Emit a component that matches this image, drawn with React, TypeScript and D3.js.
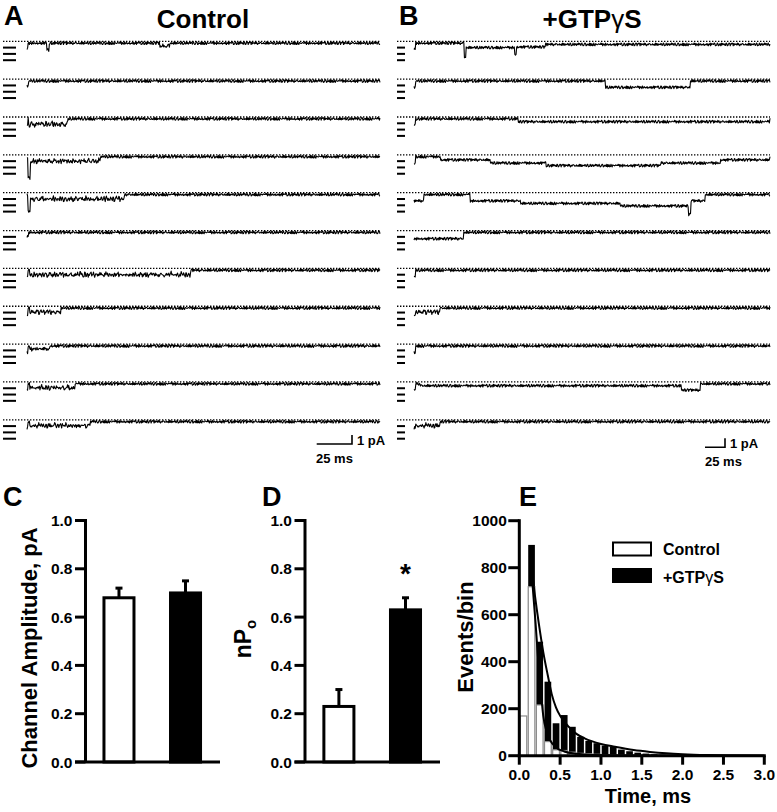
import React from 'react';
import * as d3 from 'd3';

const FONT = '"Liberation Sans", Arial, Helvetica, sans-serif';

// ---------- Panels A/B: single-channel traces ----------
const A_DURATION_MS = 250;
const B_DURATION_MS = 445;
const UNITARY_PA = 0.7;
const OPEN_LEVELS = [1, 2, 3];
const SCALE_MS = 25;
const SCALE_PA = 1;

// events per sweep: [startMs, endMs, level (in unitary openings), flicker 0/1]
const controlEvents: number[][][] = [
  [[0, 0.6, 1, 0], [14, 15.6, 1.1, 0], [94, 101, 0.6, 1]],
  [[0, 1.2, 0.8, 0]],
  [[0, 0.6, 1, 0], [1.2, 29, 1.1, 1]],
  [[0.6, 2.5, 3.4, 0], [2.5, 52, 0.9, 1]],
  [[0.6, 2.5, 2.7, 0], [2.5, 69, 0.9, 1]],
  [[0, 1.2, 0.6, 0]],
  [[0, 0.6, 1, 0], [1.9, 116, 0.9, 1]],
  [[0, 0.6, 1, 0], [1.9, 24, 0.8, 1]],
  [[0, 0.6, 1, 0], [1.9, 16, 0.6, 1]],
  [[0, 0.6, 1, 0], [1.9, 34, 0.8, 1]],
  [[0, 0.6, 1, 0], [1.9, 45, 0.8, 1]],
];

const gtpEvents: number[][][] = [
  [[0, 2, 1, 0], [63, 65, 2.2, 0], [65, 126, 0.7, 0], [126, 128, 1.8, 0], [128, 164, 0.6, 0], [164, 445, 0.2, 0]],
  [[0, 2, 1, 0], [239, 345, 1, 0]],
  [[0, 2, 1, 0], [130, 445, 0.45, 0]],
  [[0, 2, 1, 0], [33, 95, 0.5, 0], [95, 165, 1, 0], [165, 308, 1.4, 0], [308, 383, 1, 0], [383, 445, 0.5, 0]],
  [[0, 12, 1, 0], [70, 133, 1, 0], [133, 258, 1.4, 0], [258, 343, 1.8, 0], [343, 346, 3.2, 0], [346, 364, 1, 0]],
  [[0, 62, 1, 0]],
  [[0, 2, 1, 0]],
  [[0, 2, 1, 0], [2, 32, 0.8, 1]],
  [[0, 2, 1, 0]],
  [[0, 2, 1, 0], [8, 334, 0.3, 0], [334, 358, 1, 0]],
  [[0, 2, 1, 0], [2, 32, 0.8, 1]],
];

// fixed background-noise and flicker tables (digits 0-9)
const NOISE = '5364728194637251849362718453927164835291746382915473826194735261849372615849372615483927164583926174839265174839621574839261748395261748396251748396215478396';
const FLICK = '79685798469758697485967896579867593789586974859687956897459786958749687958697';

// ---------- Panels C/D ----------
const groups = ['Control', '+GTPγS'];
const ampMean = [0.68, 0.70];
const ampSem = [0.04, 0.05];
const npoMean = [0.23, 0.63];
const npoSem = [0.07, 0.05];
const barTicks = [0, 0.2, 0.4, 0.6, 0.8, 1.0];

// ---------- Panel E ----------
const binCenters = [0.05, 0.15, 0.25, 0.35, 0.45, 0.55, 0.65, 0.75, 0.85, 0.95, 1.05, 1.15, 1.25, 1.35, 1.45, 1.55, 1.65, 1.75, 1.85, 1.95, 2.05, 2.15];
const controlCounts = [169, 719, 216, 60, 25, 22, 15, 10, 8, 6, 4, 3, 2, 2, 1, 1, 0, 0, 0, 0, 0, 0];
const gtpCounts = [0, 897, 485, 315, 138, 173, 123, 80, 63, 53, 43, 39, 26, 19, 13, 9, 6, 4, 3, 2, 1, 1];
const controlFit = [[0.13, 850], [0.164, 719], [0.2, 560], [0.233, 400], [0.265, 270], [0.294, 168], [0.33, 108], [0.376, 67], [0.45, 35], [0.55, 18], [0.7, 8], [0.9, 3], [1.2, 1], [3.0, 0]];
const gtpFit = [[0.13, 850], [0.16, 770], [0.192, 680], [0.24, 560], [0.294, 440], [0.35, 340], [0.397, 262], [0.45, 205], [0.5, 170], [0.6, 125], [0.7, 93], [0.8, 74], [1.0, 50], [1.17, 38], [1.4, 24], [1.6, 16], [1.8, 10], [2.0, 6], [2.3, 2.5], [2.6, 1], [3.0, 0]];
const timeTicks = [0, 0.5, 1.0, 1.5, 2.0, 2.5, 3.0];
const countTicks = [0, 200, 400, 600, 800, 1000];

const noiseVals = NOISE.split('').map((c) => (+c - 4.5) / 4.5);
const flickVals = FLICK.split('').map((c) => +c / 9);

function tracePath(events: number[][], duration: number, x: d3.ScaleLinear<number, number>, y0: number, depth: d3.ScaleLinear<number, number>, row: number) {
  const n = 600;
  const pts: [number, number][] = [];
  for (let i = 0; i <= n; i++) {
    const t = (i / n) * duration;
    let lvl = 0;
    for (const [s, e, l, f] of events) {
      if (t >= s && t < e) lvl = f ? l * flickVals[(Math.floor(i / 2) + row * 11) % flickVals.length] : l;
    }
    const nz = noiseVals[(i * 7 + row * 37) % noiseVals.length];
    pts.push([x(t), y0 + 1.7 + nz * 1.5 + depth(lvl * UNITARY_PA)]);
  }
  return d3.line()(pts) || '';
}

function TracePanel(props: { events: number[][][]; duration: number; x0: number; x1: number; dotX0: number; markX0: number; markX1: number; scaleEndX: number; scaleY: number; title: string; titleX: number; letter: string; letterX: number; msLabelX: number; }) {
  const { events, duration, x0, x1, dotX0, markX0, markX1, scaleEndX, scaleY, title, titleX, letter, letterX, msLabelX } = props;
  const x = d3.scaleLinear().domain([0, duration]).range([x0, x1]);
  const rowY = d3.scaleLinear().domain([0, events.length - 1]).range([41.3, 419.8]);
  const depth = d3.scaleLinear().domain([0, 1]).range([0, 9]); // pA -> px
  const barLen = x(SCALE_MS) - x(0);
  return (
    <g>
      <text x={letterX} y={25} fontSize={27} fontWeight="bold" fontFamily={FONT}>{letter}</text>
      <text x={titleX} y={28} fontSize={26} fontWeight="bold" fontFamily={FONT} textAnchor="middle">
        {title.includes('γ') ? (<>+GTP<tspan fontWeight="normal">γ</tspan>S</>) : title}
      </text>
      {events.map((ev, r) => {
        const y0 = rowY(r);
        return (
          <g key={r}>
            <line x1={dotX0} x2={x1} y1={y0} y2={y0} stroke="#000" strokeWidth={1.3} strokeDasharray="1.4 1.6" />
            {OPEN_LEVELS.map((l) => (
              <line key={l} x1={markX0} x2={markX1} y1={y0 + depth(l * UNITARY_PA)} y2={y0 + depth(l * UNITARY_PA)} stroke="#000" strokeWidth={2} />
            ))}
            <path d={tracePath(ev, duration, x, y0, depth, r)} fill="none" stroke="#000" strokeWidth={1.1} strokeLinejoin="round" />
          </g>
        );
      })}
      <path d={`M${scaleEndX - barLen},${scaleY}H${scaleEndX}V${scaleY - depth(SCALE_PA)}`} fill="none" stroke="#000" strokeWidth={1.6} />
      <text x={scaleEndX + 5} y={scaleY + 1} fontSize={13} fontWeight="bold" fontFamily={FONT}>{`${SCALE_PA} pA`}</text>
      <text x={msLabelX} y={scaleY + 19} fontSize={13} fontWeight="bold" fontFamily={FONT}>{`${SCALE_MS} ms`}</text>
    </g>
  );
}

function BarPanel(props: { means: number[]; sems: number[]; axisX: number; bandRange: [number, number]; letter: string; letterX: number; star?: boolean; label: React.ReactNode; }) {
  const { means, sems, axisX, bandRange, letter, letterX, star, label } = props;
  const y = d3.scaleLinear().domain([0, 1]).range([762, 520.5]);
  const xb = d3.scaleBand<string>().domain(groups).range(bandRange).paddingInner(0.549).paddingOuter(0.27);
  const bw = xb.bandwidth();
  return (
    <g fontFamily={FONT} fontWeight="bold">
      <text x={letterX} y={506} fontSize={27}>{letter}</text>
      {label}
      {groups.map((g, i) => {
        const bx = xb(g)!;
        const cx = bx + bw / 2;
        return (
          <g key={g}>
            <line x1={cx} x2={cx} y1={y(means[i])} y2={y(means[i] + sems[i])} stroke="#000" strokeWidth={3} />
            <line x1={cx - 3.5} x2={cx + 3.5} y1={y(means[i] + sems[i])} y2={y(means[i] + sems[i])} stroke="#000" strokeWidth={3} />
            <rect x={bx} y={y(means[i])} width={bw} height={y(0) - y(means[i])} fill={i === 0 ? '#fff' : '#000'} stroke="#000" strokeWidth={3} />
          </g>
        );
      })}
      {star && (
        <text x={xb(groups[1])! + bw / 2} y={583} fontSize={28} textAnchor="middle">*</text>
      )}
      <line x1={axisX} x2={axisX} y1={y(1) - 1.5} y2={y(0)} stroke="#000" strokeWidth={3} />
      <line x1={axisX - 10.5} x2={bandRange[1] + 1.5} y1={y(0)} y2={y(0)} stroke="#000" strokeWidth={3} />
      {barTicks.map((t) => (
        <g key={t}>
          <line x1={axisX - 10.5} x2={axisX} y1={y(t)} y2={y(t)} stroke="#000" strokeWidth={3} />
          <text x={axisX - 13} y={y(t)} dy="0.36em" fontSize={15.5} textAnchor="end">{d3.format('.1f')(t)}</text>
        </g>
      ))}
    </g>
  );
}

function HistPanel() {
  const x = d3.scaleLinear().domain([0, 3]).range([519.3, 764.3]);
  const y = d3.scaleLinear().domain([0, 1000]).range([755.7, 520.7]);
  const half = 0.041;
  const line = d3.line<number[]>().x((d) => x(d[0])).y((d) => y(d[1])).curve(d3.curveMonotoneX);
  return (
    <g fontFamily={FONT} fontWeight="bold">
      <text x={519} y={506} fontSize={27}>E</text>
      <text transform={`translate(473,637) rotate(-90)`} fontSize={22} textAnchor="middle">Events/bin</text>
      <text x={648} y={802.7} fontSize={20} textAnchor="middle">Time, ms</text>
      {binCenters.map((c, i) => gtpCounts[i] > 0 && (
        <rect key={'g' + i} x={x(c - half)} y={y(gtpCounts[i])} width={x(c + half) - x(c - half)} height={y(0) - y(gtpCounts[i])} fill="#000" />
      ))}
      {binCenters.map((c, i) => controlCounts[i] > 0 && (
        <rect key={'c' + i} x={x(c - half)} y={y(controlCounts[i])} width={x(c + half) - x(c - half)} height={y(0) - y(controlCounts[i])} fill="#fff" stroke="#8c8c8c" strokeWidth={1.2} />
      ))}
      <path d={line(controlFit) || ''} fill="none" stroke="#000" strokeWidth={2} />
      <path d={line(gtpFit) || ''} fill="none" stroke="#000" strokeWidth={2} />
      <line x1={x(0)} x2={x(0)} y1={y(1000) - 1.5} y2={y(0)} stroke="#000" strokeWidth={3} />
      <line x1={x(0) - 1.5} x2={x(3) + 1.5} y1={y(0)} y2={y(0)} stroke="#000" strokeWidth={3} />
      {countTicks.map((t) => (
        <g key={t}>
          <line x1={x(0) - 11} x2={x(0)} y1={y(t)} y2={y(t)} stroke="#000" strokeWidth={3} />
          <text x={x(0) - 12.5} y={y(t)} dy="0.36em" fontSize={15.5} textAnchor="end">{t}</text>
        </g>
      ))}
      {timeTicks.map((t) => (
        <g key={t}>
          <line x1={x(t)} x2={x(t)} y1={y(0)} y2={y(0) + 9} stroke="#000" strokeWidth={3} />
          <text x={x(t)} y={779.5} fontSize={15.5} textAnchor="middle">{d3.format('.1f')(t)}</text>
        </g>
      ))}
      <rect x={613} y={542.5} width={38} height={13} fill="#fff" stroke="#000" strokeWidth={2} />
      <rect x={612} y={568} width={40} height={15} fill="#000" />
      <text x={663} y={555} fontSize={16}>{groups[0]}</text>
      <text x={663} y={582.5} fontSize={16}>+GTP<tspan fontWeight="normal">γ</tspan>S</text>
    </g>
  );
}

export default function App() {
  return (
    <svg width={777} height={812} viewBox="0 0 777 812" style={{ position: 'absolute', left: 0, top: 0, background: '#fff' }}>
      <rect width={777} height={812} fill="#fff" />
      <TracePanel events={controlEvents} duration={A_DURATION_MS} x0={27} x1={380} dotX0={3} markX0={3} markX1={16}
        scaleEndX={352} scaleY={444} title="Control" titleX={203} letter="A" letterX={4} msLabelX={316} />
      <TracePanel events={gtpEvents} duration={B_DURATION_MS} x0={414} x1={770} dotX0={397} markX0={397} markX1={405}
        scaleEndX={725} scaleY={447.3} title="+GTPγS" titleX={592} letter="B" letterX={399} msLabelX={705} />
      <BarPanel means={ampMean} sems={ampSem} axisX={85.5} bandRange={[86, 218.5]} letter="C" letterX={3}
        label={<text transform="translate(37,648) rotate(-90)" fontSize={22} textAnchor="middle">Channel Amplitude, pA</text>} />
      <BarPanel means={npoMean} sems={npoSem} axisX={305} bandRange={[305.9, 438.5]} letter="D" letterX={262} star
        label={<text transform="translate(251,639) rotate(-90)" fontSize={23} textAnchor="middle">nP<tspan fontSize={15} dy={5}>o</tspan></text>} />
      <HistPanel />
    </svg>
  );
}
